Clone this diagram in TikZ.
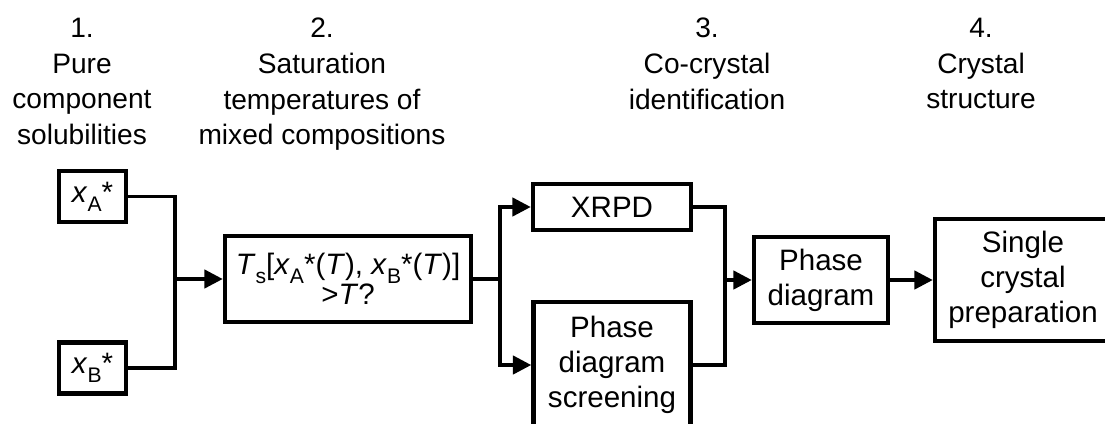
\documentclass[tikz,border=0pt]{standalone}
\usepackage{fontspec}
\setmainfont{Liberation Sans}
\usetikzlibrary{arrows.meta, positioning}

\tikzset{
  box/.style={draw, line width=3.2pt, align=center, inner sep=0pt,
    font=\fontsize{21}{25}\selectfont},
  head/.style={anchor=north, align=center, inner sep=0pt,
    font=\fontsize{20}{25.3}\selectfont},
  link/.style={line width=2.4pt},
  arr/.style={link, -{Triangle[length=13pt, width=13pt]}}
}
\newcommand{\lowsub}[1]{\raisebox{-0.3em}{\fontsize{15}{15}\selectfont #1}}
\newcommand{\xstar}[1]{\textit{x}\lowsub{#1}*}

\begin{document}
\begin{tikzpicture}[x=0.025cm, y=-0.025cm]
  \useasboundingbox (0,0) rectangle (1105,423);

  % step headings
  \node[head] (h1) at (82,18) {1.\\Pure\\component\\solubilities};
  \node[head] (h2) at (322,18) {2.\\Saturation\\temperatures of\\mixed compositions};
  \node[head] (h3) at (707,18) {3.\\Co-crystal\\identification};
  \node[head] (h4) at (981,18) {4.\\Crystal\\structure};

  % pure component solubilities
  \node[box, minimum width=1.675cm, minimum height=1.275cm] (xa) at (92.5,196.5) {\xstar{A}};
  \node[box, minimum width=1.675cm, minimum height=1.275cm] (xb) at (92.5,368) {\xstar{B}};

  % saturation temperature check
  \node[box, minimum width=6.15cm, minimum height=2.15cm,
    font=\fontsize{21}{21.5}\selectfont] (ts) at (348,279)
    {\textit{T}\lowsub{s}[\xstar{A}(\textit{T}), \xstar{B}(\textit{T})]\\>\textit{T}?};

  % co-crystal identification
  \node[box, minimum width=3.95cm, minimum height=1.15cm] (xrpd) at (612,207) {XRPD};
  \node[box, minimum width=3.925cm, minimum height=3.15cm] (scr) at (612,365) {Phase\\diagram\\screening};
  \node[box, minimum width=3.35cm, minimum height=2.15cm] (pd) at (821,280) {Phase\\diagram};

  % crystal structure
  \node[box, minimum width=4.4cm, minimum height=3.05cm] (sc) at (1023,280) {Single\\crystal\\preparation};

  % junctions
  \coordinate (j1) at (175,279);
  \coordinate (j2) at (500,279);
  \coordinate (j3) at (725,280);

  \draw[link] (xa.east) -| (j1) |- (xb.east);
  \draw[arr] (j1) -- (ts.west);
  \draw[link] (ts.east) -- (j2);
  \draw[arr] (j2) |- (xrpd.west);
  \draw[arr] (j2) |- (scr.west);
  \draw[link] (xrpd.east) -| (j3) |- (scr.east);
  \draw[arr] (j3) -- (pd.west);
  \draw[arr] (pd.east) -- (sc.west);
\end{tikzpicture}
\end{document}
